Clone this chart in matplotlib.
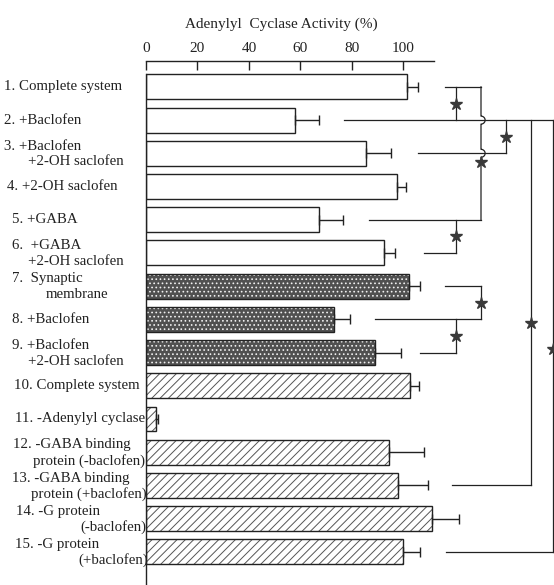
import matplotlib.pyplot as plt
import numpy as np
from matplotlib.transforms import blended_transform_factory

plt.rcParams['font.family'] = ['Liberation Serif', 'DejaVu Serif']
plt.rcParams['hatch.linewidth'] = 0.7

# rows, top to bottom
label_lines = [
    ["1. Complete system"],
    ["2. +Baclofen"],
    ["3. +Baclofen", "+2-OH saclofen"],
    ["4. +2-OH saclofen"],
    ["5. +GABA"],
    ["6.  +GABA", "+2-OH saclofen"],
    ["7.  Synaptic", "membrane"],
    ["8. +Baclofen"],
    ["9. +Baclofen", "+2-OH saclofen"],
    ["10. Complete system"],
    ["11. -Adenylyl cyclase"],
    ["12. -GABA binding", "protein (-baclofen)"],
    ["13. -GABA binding", "protein (+baclofen)"],
    ["14. -G protein", "(-baclofen)"],
    ["15. -G protein", "(+baclofen)"],
]
activity = [101.5, 58, 85.3, 97.5, 67, 92.4, 102, 73, 89,
            102.5, 3.7, 94.4, 97.9, 111, 99.8]
error = [4, 9, 10, 3.5, 9.5, 4.3, 4.4, 6.2, 10,
         3.5, 0.8, 13.6, 11.6, 10.6, 6.6]
group = ['open'] * 6 + ['stipple'] * 3 + ['hatch'] * 6
xticks = [0, 20, 40, 60, 80, 100]

# significance brackets: (x of vertical, first row, last row, star row)
brackets = [
    (120.4, 0, 1, 0.5),
    (130.1, 0, 4, 2.25),
    (139.8, 1, 2, 1.5),
    (149.5, 1, 12, 7.1),
    (158.0, 1, 14, 7.9),
    (120.4, 4, 5, 4.5),
    (130.1, 6, 7, 6.5),
    (120.4, 7, 8, 7.5),
]
# where each row's bracket line begins (x, %)
line_start = {0: 116.1, 1: 76.9, 2: 105.6, 4: 86.6, 5: 108.0,
              6: 116.1, 7: 88.9, 8: 106.4, 12: 118.8, 14: 116.5}

# label layout, figure pixels
first_x = [4, 4, 4, 7, 12, 12, 12, 12, 12, 14, 15, 13, 12, 16, 15]
second_x = [None, None, 28, None, None, 28, 46, None, 28,
            None, None, 33, 31, 80, 78]

W, H = 554, 585
ink = '#222222'
fig = plt.figure(figsize=(W / 100, H / 100), dpi=100)
ax = fig.add_axes([146 / W, 0, 408 / W, 524 / H])

rows = np.arange(len(activity))
styles = {
    'open': dict(color='white', hatch=None, hc='white'),
    'stipple': dict(color='#505050', hatch='....', hc='#f0f0f0'),
    'hatch': dict(color='white', hatch='////', hc='#555555'),
}
for g, st in styles.items():
    sel = [i for i in rows if group[i] == g]
    vals = [activity[i] for i in sel]
    ax.barh(sel, vals, height=0.75, color=st['color'], edgecolor=st['hc'],
            hatch=st['hatch'], linewidth=0, zorder=2)
    ax.barh(sel, vals, height=0.75, fill=False, edgecolor=ink,
            linewidth=1.0, zorder=3)

ax.errorbar(activity, rows, xerr=[np.zeros(len(error)), error], fmt='none',
            ecolor=ink, elinewidth=1.0, capsize=3.5, capthick=1.0, zorder=3)

# bracket lines
line_end = {}
for x, a, b, s in brackets:
    for r in (a, b):
        line_end[r] = max(line_end.get(r, 0), x)
for r, x0 in line_start.items():
    ax.plot([x0, line_end[r]], [r, r], color=ink, lw=0.9, clip_on=False)

rx, ry = 1.6, 0.12
for x, a, b, s in brackets:
    crossings = [r for r in line_start if a < r < b and line_start[r] < x < line_end[r]]
    xs, ys = [x], [a]
    for c in sorted(crossings):
        t = np.linspace(0, np.pi, 20)
        xs += list(x + rx * np.sin(t))
        ys += list(c - ry * np.cos(t))
    xs.append(x)
    ys.append(b)
    ax.plot(xs, ys, color=ink, lw=0.9, clip_on=False)
    ax.plot(x, s, marker='*', ms=9, color='#3a3a3a', mec='#3a3a3a',
            clip_on=False, zorder=5)

ax.set_xlim(0, 158.45)
ax.set_ylim(15.0, -0.78)
ax.xaxis.tick_top()
ax.set_xticks(xticks)
ax.tick_params(axis='x', direction='in', length=6.5, width=1.0, pad=4,
               labelsize=11, colors=ink)
ax.set_yticks([])
for side in ('right', 'bottom'):
    ax.spines[side].set_visible(False)
ax.spines['top'].set_bounds(0, 112)
ax.spines['left'].set_bounds(-0.375, 15.0)
for side in ('top', 'left'):
    ax.spines[side].set_color(ink)
    ax.spines[side].set_linewidth(1.0)

fig.text(281 / W, 1 - 24 / H, 'Adenylyl  Cyclase Activity (%)',
         ha='center', va='center', fontsize=11, color=ink)

fs = 10.75
tr = blended_transform_factory(fig.transFigure, ax.transData)
for i, lines in enumerate(label_lines):
    if len(lines) == 1:
        ax.text(first_x[i] / W, i, lines[0], transform=tr, ha='left',
                va='center', fontsize=fs, color=ink)
    else:
        ax.text(first_x[i] / W, i - 0.22, lines[0], transform=tr, ha='left',
                va='center', fontsize=fs, color=ink)
        ax.text(second_x[i] / W, i + 0.26, lines[1], transform=tr, ha='left',
                va='center', fontsize=fs, color=ink)

fig.savefig('out.png', dpi=100)
